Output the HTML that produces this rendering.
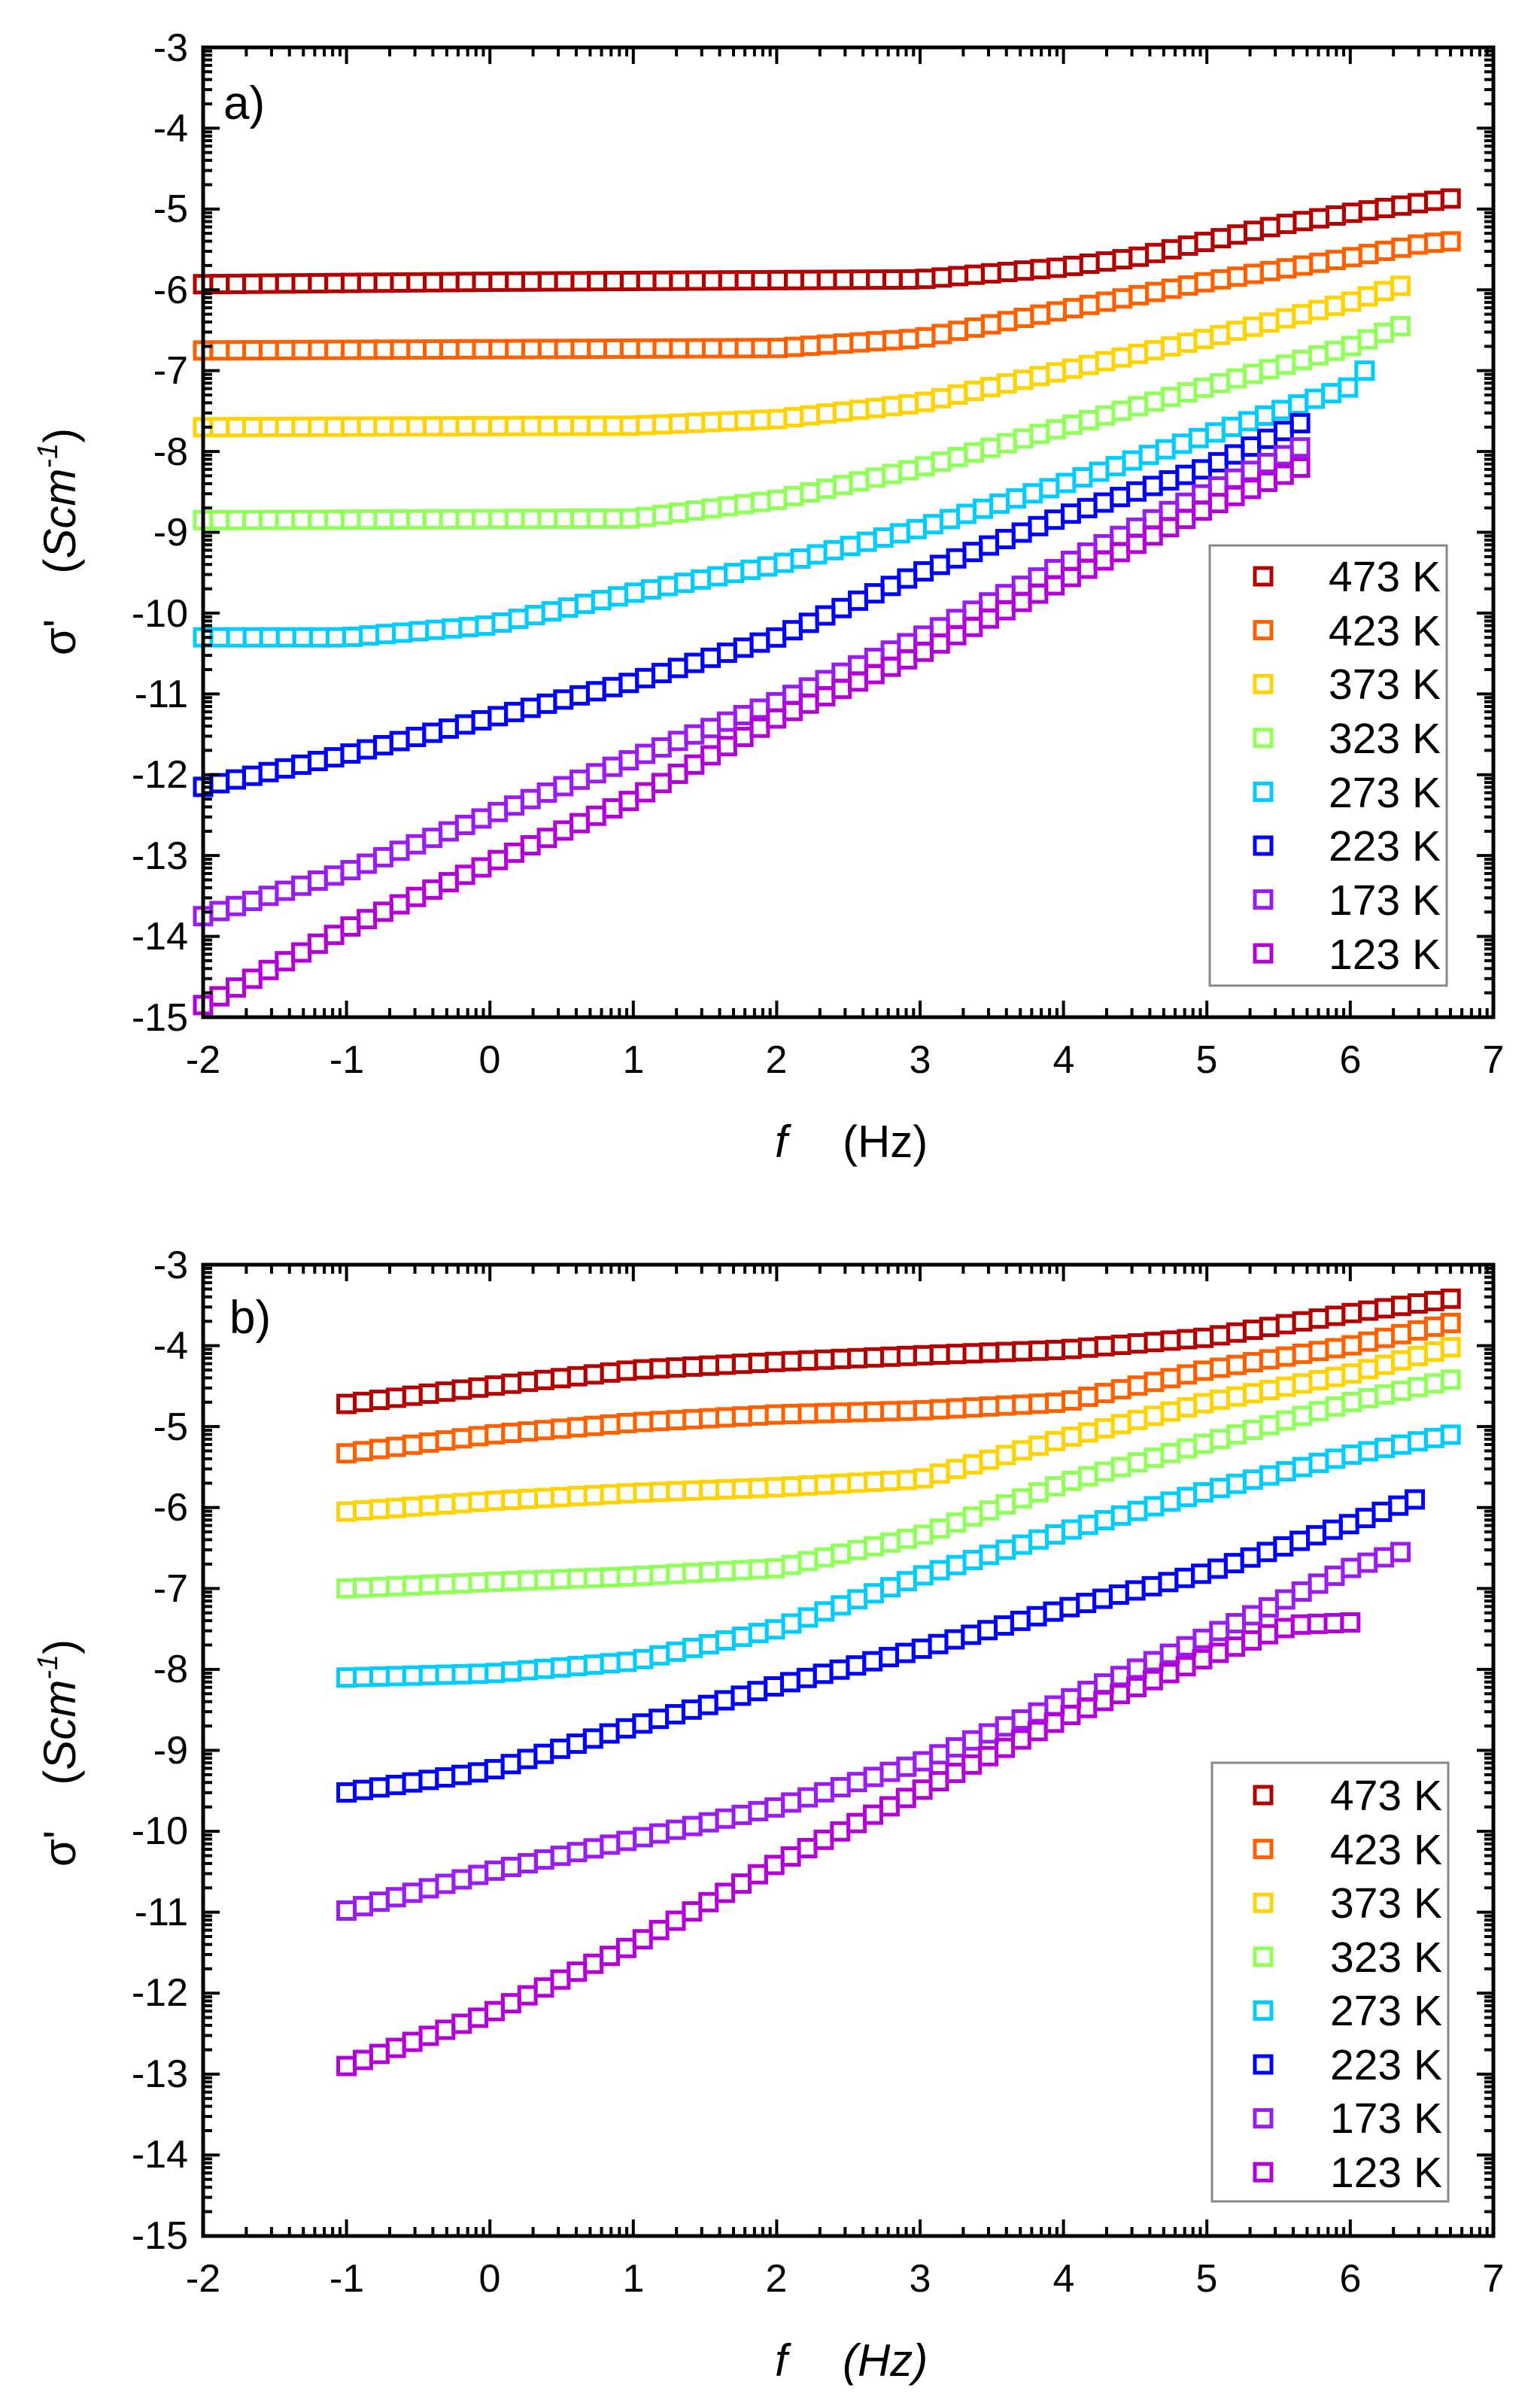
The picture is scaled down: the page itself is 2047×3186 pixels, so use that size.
<!DOCTYPE html>
<html><head><meta charset="utf-8"><style>
html,body{margin:0;padding:0;background:#fff;}
svg{display:block;}
text{font-family:"Liberation Sans",Arial,sans-serif;fill:#000;}
</style></head><body>
<svg id="s" width="2047" height="3186" viewBox="0 0 2047 3186" xmlns="http://www.w3.org/2000/svg">
<rect width="2047" height="3186" fill="#fff"/>
<g id="g"></g>
<!-- Top plot text -->
<g font-size="52" text-anchor="end">
<text x="250" y="81">-3</text><text x="250" y="188">-4</text><text x="250" y="295">-5</text><text x="250" y="403">-6</text><text x="250" y="510">-7</text><text x="250" y="618">-8</text><text x="250" y="725">-9</text><text x="250" y="833">-10</text><text x="250" y="940">-11</text><text x="250" y="1047">-12</text><text x="250" y="1155">-13</text><text x="250" y="1262">-14</text><text x="250" y="1370">-15</text>
</g>
<g font-size="52" text-anchor="middle">
<text x="270" y="1426">-2</text><text x="461" y="1426">-1</text><text x="651" y="1426">0</text><text x="842" y="1426">1</text><text x="1032" y="1426">2</text><text x="1223" y="1426">3</text><text x="1414" y="1426">4</text><text x="1604" y="1426">5</text><text x="1795" y="1426">6</text><text x="1985" y="1426">7</text>
</g>
<text x="297" y="158" font-size="62">a)</text>
<text transform="translate(100,720) rotate(-90)" font-size="60" text-anchor="middle">σ'<tspan dx="60">(</tspan><tspan font-style="italic">Scm</tspan><tspan font-style="italic" font-size="38" dy="-24">-1</tspan><tspan dy="24">)</tspan></text>
<text x="1030" y="1538" font-size="60" font-style="italic" font-family="Liberation Serif,serif">f</text>
<text x="1120" y="1538" font-size="60">(Hz)</text>

<!-- Bottom plot text -->
<g font-size="52" text-anchor="end">
<text x="250" y="1699">-3</text><text x="250" y="1806">-4</text><text x="250" y="1914">-5</text><text x="250" y="2021">-6</text><text x="250" y="2129">-7</text><text x="250" y="2236">-8</text><text x="250" y="2344">-9</text><text x="250" y="2451">-10</text><text x="250" y="2559">-11</text><text x="250" y="2666">-12</text><text x="250" y="2774">-13</text><text x="250" y="2881">-14</text><text x="250" y="2989">-15</text>
</g>
<g font-size="52" text-anchor="middle">
<text x="270" y="3046">-2</text><text x="461" y="3046">-1</text><text x="651" y="3046">0</text><text x="842" y="3046">1</text><text x="1032" y="3046">2</text><text x="1223" y="3046">3</text><text x="1414" y="3046">4</text><text x="1604" y="3046">5</text><text x="1795" y="3046">6</text><text x="1985" y="3046">7</text>
</g>
<text x="305" y="1772" font-size="62">b)</text>
<text transform="translate(100,2330) rotate(-90)" font-size="60" text-anchor="middle">σ'<tspan dx="60">(</tspan><tspan font-style="italic">Scm</tspan><tspan font-style="italic" font-size="38" dy="-24">-1</tspan><tspan dy="24">)</tspan></text>
<text x="1030" y="3158" font-size="60" font-style="italic" font-family="Liberation Serif,serif">f</text>
<text x="1120" y="3158" font-size="60" font-style="italic">(Hz)</text>

<!-- Legends -->
<rect x="1608" y="725" width="315" height="585" fill="#fff" stroke="#888" stroke-width="3"/>
<rect x="1611" y="2343" width="314" height="583" fill="#fff" stroke="#888" stroke-width="3"/>
<g font-size="57" text-anchor="end">
<text x="1915" y="786">473 K</text><text x="1915" y="858">423 K</text><text x="1915" y="929">373 K</text><text x="1915" y="1001">323 K</text><text x="1915" y="1073">273 K</text><text x="1915" y="1144">223 K</text><text x="1915" y="1216">173 K</text><text x="1915" y="1288">123 K</text>
<text x="1917" y="2406">473 K</text><text x="1917" y="2478">423 K</text><text x="1917" y="2549">373 K</text><text x="1917" y="2621">323 K</text><text x="1917" y="2692">273 K</text><text x="1917" y="2764">223 K</text><text x="1917" y="2835">173 K</text><text x="1917" y="2907">123 K</text>
</g>
<g id="leg"></g>
</svg>
<script>
var NS="http://www.w3.org/2000/svg",g=document.getElementById('g'),lg=document.getElementById('leg');
function el(p,n,a){var e=document.createElementNS(NS,n);for(var k in a)e.setAttribute(k,a[k]);p.appendChild(e);return e;}
var cols=['#b30000','#ff6000','#ffd200','#90ff5a','#00ccff','#0000ff','#9a1cf0','#b400d8'];
var X0=270,XU=190.6,R=1985;
function plot(top,bot,data,legY){
  var YU=(bot-top)/12;
  function px(x){return X0+(x+2)*XU;}
  function py(y){return top+(-3-y)*YU;}
  data.forEach(function(pts,i){
    var xs=pts[0][0],xe=pts[pts.length-1][0];
    var n=Math.round((xe-xs)/0.115),st=(xe-xs)/n;
    for(var m=0;m<=n;m++){
      var x=xs+m*st;
      var j=0;while(j<pts.length-2&&x>pts[j+1][0])j++;
      var a=pts[j],b=pts[j+1],t=(x-a[0])/(b[0]-a[0]);var y=a[1]+t*(b[1]-a[1]);
      el(g,'rect',{x:px(x)-11,y:py(y)-11,width:22,height:22,fill:'none',stroke:cols[i],'stroke-width':5});
    }
    el(lg,'rect',{x:1668,y:legY+i*71.6-11,width:22,height:22,fill:'none',stroke:cols[i],'stroke-width':5});
  });
  el(g,'rect',{x:X0,y:top,width:R-X0,height:bot-top,fill:'none',stroke:'#000','stroke-width':5});
  var d='';
  for(var v=-2;v<=7;v++){var x=px(v);d+='M'+x+' '+bot+'v-22M'+x+' '+top+'v22';
    if(v<7)for(var k=2;k<=9;k++){var xx=px(v+Math.log10(k));d+='M'+xx+' '+bot+'v-12M'+xx+' '+top+'v12';}}
  for(var v=-15;v<=-3;v++){var y=py(v);d+='M'+X0+' '+y+'h22M'+R+' '+y+'h-22';
    if(v<-3)for(var k=2;k<=9;k++){var yy=py(v+Math.log10(k));d+='M'+X0+' '+yy+'h12M'+R+' '+yy+'h-12';}}
  el(g,'path',{d:d,stroke:'#000','stroke-width':4,fill:'none'});
}
var A=[
[[-2,-5.93],[0,-5.9],[3,-5.87],[4,-5.72],[4.5,-5.6],[5,-5.4],[5.5,-5.2],[6,-5.05],[6.5,-4.92],[6.7,-4.87]],
[[-2,-6.75],[2,-6.72],[3,-6.6],[4,-6.25],[5,-5.9],[6,-5.6],[6.5,-5.43],[6.7,-5.4]],
[[-2,-7.7],[1,-7.68],[2,-7.6],[3,-7.4],[4,-7.0],[5,-6.6],[6,-6.15],[6.35,-5.95]],
[[-2,-8.85],[1,-8.83],[2,-8.6],[3,-8.2],[4,-7.7],[5,-7.2],[6,-6.7],[6.35,-6.45]],
[[-2,-10.3],[-1,-10.3],[0,-10.15],[1,-9.75],[2,-9.4],[3,-8.95],[4,-8.4],[5,-7.8],[6,-7.2],[6.1,-7.0]],
[[-2,-12.15],[-1,-11.75],[0,-11.3],[1,-10.85],[2,-10.3],[3,-9.5],[4,-8.8],[5,-8.2],[5.65,-7.65]],
[[-2,-13.75],[-1,-13.2],[0,-12.5],[1,-11.8],[2,-11.1],[3,-10.3],[4,-9.4],[5,-8.5],[5.65,-7.95]],
[[-2,-14.85],[-1,-13.9],[0,-13.1],[1,-12.3],[2,-11.3],[3,-10.5],[4,-9.6],[5,-8.7],[5.65,-8.2]]];
var B=[
[[-1,-4.72],[0,-4.5],[1,-4.3],[2,-4.2],[3,-4.12],[4,-4.05],[5,-3.9],[6,-3.6],[6.7,-3.42]],
[[-1,-5.33],[0,-5.1],[1,-4.95],[2,-4.85],[3,-4.8],[4,-4.7],[5,-4.3],[6,-4.0],[6.7,-3.72]],
[[-1,-6.05],[0,-5.92],[1,-5.82],[2,-5.75],[3,-5.65],[4,-5.15],[5,-4.7],[6,-4.35],[6.7,-4.02]],
[[-1,-7.0],[0,-6.92],[1,-6.85],[2,-6.75],[3,-6.35],[4,-5.7],[5,-5.2],[6,-4.7],[6.7,-4.42]],
[[-1,-8.1],[0,-8.05],[1,-7.9],[2,-7.5],[3,-6.85],[4,-6.3],[5,-5.8],[6,-5.35],[6.7,-5.1]],
[[-1,-9.52],[0,-9.25],[1,-8.7],[2,-8.2],[3,-7.75],[4,-7.25],[5,-6.8],[6,-6.2],[6.45,-5.9]],
[[-1,-10.98],[0,-10.5],[1,-10.1],[2,-9.7],[3,-9.15],[4,-8.4],[5,-7.6],[6,-6.75],[6.35,-6.55]],
[[-1,-12.9],[0,-12.25],[1,-11.4],[2,-10.4],[3,-9.5],[4,-8.6],[5,-7.85],[5.6,-7.45],[6,-7.42]]];
plot(63,1352,A,766);
plot(1681,2972,B,2386);
</script>
</body></html>
